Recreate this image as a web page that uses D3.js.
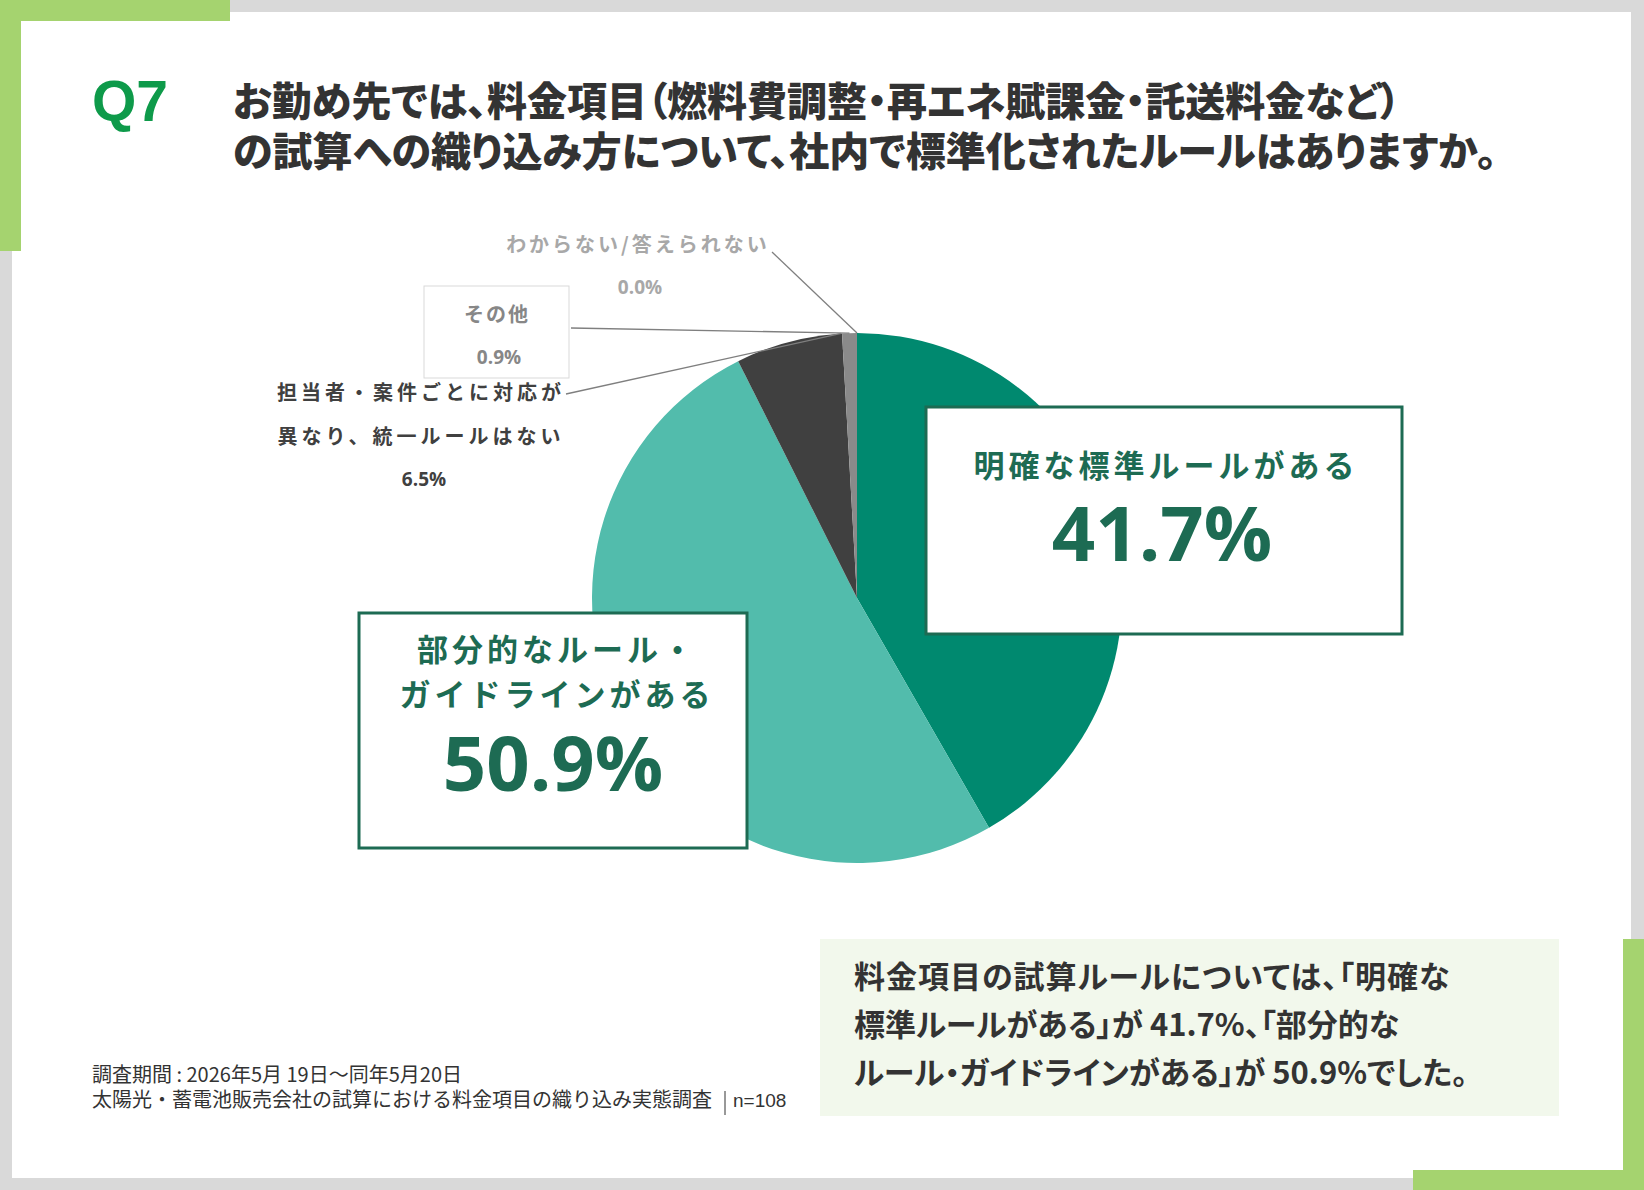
<!DOCTYPE html>
<html>
<head>
<meta charset="utf-8">
<script src="https://cdn.jsdelivr.net/npm/d3@7"></script>
<style>
  html, body { margin: 0; padding: 0; background: #fff; }
  svg text { font-family: "Noto Sans CJK JP", "Noto Sans", sans-serif; }
</style>
</head>
<body>
<script>
  var width = 1644;
  var height = 1190;

  // chart data
  var categories = ["明確な標準ルールがある", "部分的なルール・ガイドラインがある",
    "担当者・案件ごとに対応が異なり、統一ルールはない", "その他", "わからない/答えられない"];
  var values = [41.7, 50.9, 6.5, 0.9, 0.0];
  var sliceColors = ["#00896f", "#52bcac", "#404040", "#8a8a8a", "#bdbdbd"];

  var titleLines = ["お勤め先では、料金項目（燃料費調整・再エネ賦課金・託送料金など）",
    "の試算への織り込み方について、社内で標準化されたルールはありますか。"];
  var summaryLines = ["料金項目の試算ルールについては、「明確な",
    "標準ルールがある」が 41.7%、「部分的な",
    "ルール・ガイドラインがある」が 50.9%でした。"];
  var footerLines = ["調査期間 : 2026年5月 19日～同年5月20日",
    "太陽光・蓄電池販売会社の試算における料金項目の織り込み実態調査"];
  var sampleSize = "n=108";

  var svg = d3.select("body")
    .append("svg")
    .attr("width", width)
    .attr("height", height);

  // frame
  svg.append("rect").attr("width", width).attr("height", height).style("fill", "#d9d9d9");
  svg.append("rect").attr("x", 12).attr("y", 12).attr("width", 1619).attr("height", 1166).style("fill", "#fff");
  var green = "#a5d36f";
  svg.append("rect").attr("x", 0).attr("y", 0).attr("width", 230).attr("height", 21).style("fill", green);
  svg.append("rect").attr("x", 0).attr("y", 0).attr("width", 21).attr("height", 251).style("fill", green);
  svg.append("rect").attr("x", 1623).attr("y", 939).attr("width", 21).attr("height", 251).style("fill", green);
  svg.append("rect").attr("x", 1413).attr("y", 1170).attr("width", 231).attr("height", 20).style("fill", green);

  // title
  svg.append("text")
    .attr("x", 92).attr("y", 121)
    .style("font-family", "'Liberation Sans', Arial, sans-serif")
    .style("font-weight", "bold")
    .style("font-size", "57px")
    .style("fill", "#0e9a4a")
    .text("Q7");

  var title = svg.append("text")
    .attr("x", 233)
    .attr("y", 116)
    .style("font-size", "40px")
    .style("font-weight", "900")
    .style("font-feature-settings", "'palt'")
    .style("fill", "#333");
  title.selectAll("tspan")
    .data(titleLines)
    .enter()
    .append("tspan")
    .attr("x", 233)
    .attr("dy", function(d, i) { return i === 0 ? 0 : 50; })
    .text(function(d) { return d; });

  // pie
  var cx = 857, cy = 598, radius = 265;
  var pie = d3.pie().sort(null).value(function(d) { return d; });
  var arcs = pie(values);
  var arc = d3.arc().innerRadius(0).outerRadius(radius);

  var g = svg.append("g").attr("transform", "translate(" + cx + "," + cy + ")");

  g.selectAll("path")
    .data(arcs)
    .enter()
    .append("path")
    .attr("d", arc)
    .style("fill", function(d, i) { return sliceColors[i]; });

  function edge(angle) {
    return [cx + radius * Math.sin(angle), cy - radius * Math.cos(angle)];
  }

  // leader lines
  var leaders = [
    { from: [566, 394], to: edge(arcs[2].endAngle - 0.003) },
    { from: [571, 328], to: edge((arcs[3].startAngle + arcs[3].endAngle) / 2) },
    { from: [772, 252], to: edge(arcs[4].startAngle) }
  ];
  svg.selectAll(".leader")
    .data(leaders)
    .enter()
    .append("line")
    .attr("class", "leader")
    .attr("x1", function(d) { return d.from[0]; })
    .attr("y1", function(d) { return d.from[1]; })
    .attr("x2", function(d) { return d.to[0]; })
    .attr("y2", function(d) { return d.to[1]; })
    .style("stroke", "#7f7f7f")
    .style("stroke-width", 1.3);

  // callout boxes for the two large slices
  var darkGreen = "#1d6b53";
  var boxes = [
    { x: 926, y: 407, w: 476, h: 227, lines: [categories[0]], lineY: [477], cx: 1164, numY: 561, i: 0 },
    { x: 359, y: 613, w: 388, h: 235, lines: ["部分的なルール・", "ガイドラインがある"], lineY: [661, 706], cx: 555, numY: 791, i: 1 }
  ];
  boxes.forEach(function(b) {
    svg.append("rect")
      .attr("x", b.x).attr("y", b.y).attr("width", b.w).attr("height", b.h)
      .style("fill", "#fff")
      .style("stroke", darkGreen)
      .style("stroke-width", 3);
    b.lines.forEach(function(t, j) {
      svg.append("text")
        .attr("x", b.cx + 2).attr("y", b.lineY[j])
        .attr("text-anchor", "middle")
        .style("font-size", "31px")
        .style("font-weight", "bold")
        .style("letter-spacing", "4px")
        .style("fill", darkGreen)
        .text(t);
    });
    svg.append("text")
      .attr("x", b.cx - 2).attr("y", b.numY)
      .attr("text-anchor", "middle")
      .style("font-family", "'Open Sans', sans-serif")
      .style("font-size", "76px")
      .style("font-weight", "bold")
      .style("fill", darkGreen)
      .text(d3.format(".1f")(values[b.i]) + "%");
  });

  // small labels
  svg.append("rect")
    .attr("x", 424).attr("y", 286).attr("width", 145).attr("height", 92)
    .style("fill", "#fff")
    .style("stroke", "#d9d9d9")
    .style("stroke-width", 1);

  var smallLabels = [
    { lines: ["担当者・案件ごとに対応が", "異なり、統一ルールはない"], x: 421, y: 400, color: "#404040", i: 2, ls: "4px" },
    { lines: [categories[3]], x: 497, y: 322, color: "#878787", i: 3, ls: "2px" },
    { lines: [categories[4]], x: 638, y: 252, color: "#a8a8a8", i: 4, ls: "3px" }
  ];
  smallLabels.forEach(function(s) {
    s.lines.forEach(function(t, j) {
      svg.append("text")
        .attr("x", s.x).attr("y", s.y + j * 44)
        .attr("text-anchor", "middle")
        .style("font-size", "20px")
        .style("font-weight", "bold")
        .style("letter-spacing", s.ls)
        .style("fill", s.color)
        .text(t);
    });
    svg.append("text")
      .attr("x", s.x + (s.i === 2 ? 3 : 2)).attr("y", s.y + s.lines.length * 44 - 2)
      .attr("text-anchor", "middle")
      .style("font-family", "'Open Sans', sans-serif")
      .style("font-size", "19px")
      .style("font-weight", "bold")
      .style("fill", s.color)
      .text(d3.format(".1f")(values[s.i]) + "%");
  });

  // summary box
  svg.append("rect")
    .attr("x", 820).attr("y", 939).attr("width", 739).attr("height", 177)
    .style("fill", "#f2f8ec");
  svg.selectAll(".summary")
    .data(summaryLines)
    .enter()
    .append("text")
    .attr("class", "summary")
    .attr("x", 854)
    .attr("y", function(d, i) { return 988 + i * 48; })
    .style("font-size", "31px")
    .style("font-weight", "bold")
    .style("letter-spacing", function(d, i) { return i === 0 ? "1px" : "0px"; })
    .style("font-feature-settings", "'palt'")
    .style("fill", "#333")
    .text(function(d) { return d; });

  // footer
  var footer = svg.append("text")
    .attr("x", 92)
    .attr("y", 1082)
    .style("font-size", "20px")
    .style("fill", "#333");
  footer.selectAll("tspan")
    .data(footerLines)
    .enter()
    .append("tspan")
    .attr("x", 92)
    .attr("dy", function(d, i) { return i === 0 ? 0 : 25; })
    .text(function(d) { return d; });
  svg.append("line")
    .attr("x1", 725).attr("x2", 725).attr("y1", 1091).attr("y2", 1115)
    .style("stroke", "#333").style("stroke-width", 1);
  svg.append("text")
    .attr("x", 733).attr("y", 1107)
    .style("font-family", "'Liberation Sans', Arial, sans-serif")
    .style("font-size", "19px")
    .style("fill", "#333")
    .text(sampleSize);
</script>
</body>
</html>
